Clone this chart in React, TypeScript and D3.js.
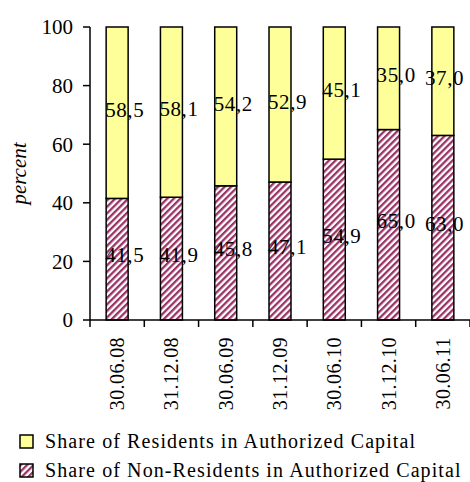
import React from 'react';
import * as d3 from 'd3';

const dates = ['30.06.08', '31.12.08', '30.06.09', '31.12.09', '30.06.10', '31.12.10', '30.06.11'];
const nonResidents = [41.5, 41.9, 45.8, 47.1, 54.9, 65.0, 63.0];
const residents = [58.5, 58.1, 54.2, 52.9, 45.1, 35.0, 37.0];
const yTicks = [0, 20, 40, 60, 80, 100];
const legendLabels = [
    'Share of Residents in Authorized Capital',
    'Share of Non-Residents in Authorized Capital',
];

const W = 470;
const H = 482;
const font = "'Liberation Serif', 'DejaVu Serif', serif";
const yellow = '#FFFF99';
const plum = '#993366';

const fmt = (v: number) => v.toFixed(1).replace('.', ',');

const App: React.FC = () => {
    const left = 90, right = 470, top = 27, bottom = 320;

    const x = d3.scaleBand<string>()
        .domain(dates)
        .range([left, right])
        .paddingInner(0.595)
        .paddingOuter(0.2975);
    const y = d3.scaleLinear().domain([0, 100]).range([bottom, top]);

    const step = x.step();
    const bw = x.bandwidth();

    // label x: starts at the bar's left edge, pulled back if it would leave the picture
    const labelX = (d: string) => Math.min(x(d)! - 1, W - 45);

    return (
        <svg width={W} height={H} style={{ position: 'absolute', left: 0, top: 0, background: '#fff', fontFamily: font }}>
            <defs>
                <pattern id="hatch" patternUnits="userSpaceOnUse" width="4.6" height="4.6"
                         patternTransform="rotate(45)">
                    <rect width="4.6" height="4.6" fill="#fff" />
                    <rect width="2.3" height="4.6" fill={plum} />
                </pattern>
            </defs>

            {/* bars */}
            {dates.map((d, i) => (
                <g key={d}>
                    <rect x={x(d)} y={y(nonResidents[i])} width={bw}
                          height={y(0) - y(nonResidents[i])}
                          fill="url(#hatch)" stroke="#000" strokeWidth={1.5} />
                    <rect x={x(d)} y={y(100)} width={bw}
                          height={y(nonResidents[i]) - y(100)}
                          fill={yellow} stroke="#000" strokeWidth={1.5} />
                </g>
            ))}

            {/* value labels */}
            {dates.map((d, i) => (
                <g key={'l' + d} fontSize={21} fill="#000">
                    <text x={labelX(d)} y={y(nonResidents[i] / 2)} dy="0.15em" letterSpacing={0.6}>
                        {fmt(nonResidents[i])}
                    </text>
                    <text x={labelX(d)} y={y(nonResidents[i] + residents[i] / 2)} dy="0.2em" letterSpacing={0.6}>
                        {fmt(residents[i])}
                    </text>
                </g>
            ))}

            {/* y axis */}
            <line x1={left} x2={left} y1={top} y2={bottom} stroke="#000" strokeWidth={1.5} />
            {yTicks.map(t => (
                <g key={t}>
                    <line x1={left - 7} x2={left} y1={y(t)} y2={y(t)} stroke="#000" strokeWidth={1.5} />
                    <text x={left - 17} y={y(t)} dy="0.35em" textAnchor="end" fontSize={21}>{t}</text>
                </g>
            ))}
            <text transform={`translate(19, ${(top + bottom) / 2}) rotate(-90)`} textAnchor="middle"
                  fontSize={21} fontStyle="italic" dy="0.35em">percent</text>

            {/* x axis */}
            <line x1={left} x2={right} y1={bottom} y2={bottom} stroke="#000" strokeWidth={1.5} />
            {d3.range(dates.length + 1).map(k => (
                <line key={k} x1={left + k * step} x2={left + k * step} y1={bottom} y2={bottom + 7}
                      stroke="#000" strokeWidth={1.5} />
            ))}
            {dates.map(d => (
                <text key={'x' + d}
                      transform={`translate(${x(d)! + bw / 2}, 337) rotate(-90)`}
                      textAnchor="end" dy="0.35em" fontSize={20} letterSpacing={0.4}>{d}</text>
            ))}

            {/* legend */}
            {legendLabels.map((lab, i) => (
                <g key={lab} transform={`translate(20, ${435 + i * 29})`}>
                    <rect x={0} y={0} width={13} height={13}
                          fill={i === 0 ? yellow : 'url(#hatch)'} stroke="#000" strokeWidth={1.5} />
                    <text x={25} y={13} fontSize={20} letterSpacing={1.1}>{lab}</text>
                </g>
            ))}
        </svg>
    );
};

export default App;
